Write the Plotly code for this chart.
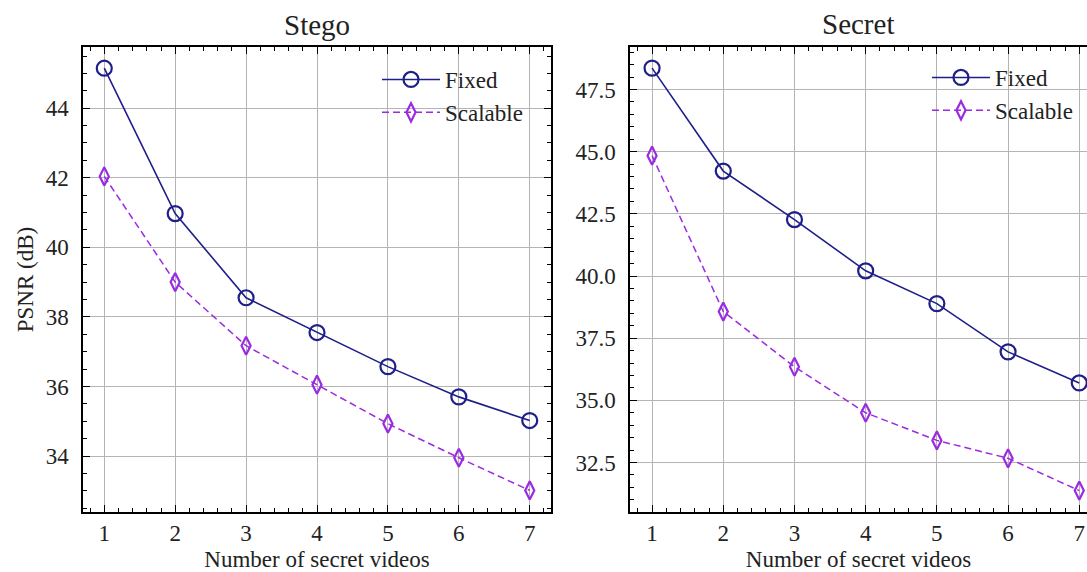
import plotly.graph_objects as go

n_videos = [1, 2, 3, 4, 5, 6, 7]
stego_fixed = [45.15, 40.97, 38.55, 37.55, 36.57, 35.70, 35.02]
stego_scalable = [42.04, 39.00, 37.17, 36.05, 34.93, 33.95, 33.01]
secret_fixed = [48.36, 44.22, 42.27, 40.21, 38.89, 36.95, 35.70]
secret_scalable = [44.84, 38.57, 36.35, 34.50, 33.39, 32.67, 31.37]

FIXED_C = "#1f1f8a"
SCAL_C = "#9a2be0"
FONT = "Liberation Serif"
TXT = "#222"
W, H = 1087, 572

fig = go.Figure()

def add_series(xa, ya, fixed, scal, legend):
    fig.add_trace(go.Scatter(
        x=n_videos, y=fixed, mode="lines+markers", name="Fixed",
        xaxis=xa, yaxis=ya, legend=legend,
        line=dict(color=FIXED_C, width=1.6),
        marker=dict(symbol="circle-open", size=15, color=FIXED_C, line=dict(width=2.2, color=FIXED_C))))
    fig.add_trace(go.Scatter(
        x=n_videos, y=scal, mode="lines+markers", name="Scalable",
        xaxis=xa, yaxis=ya, legend=legend,
        line=dict(color=SCAL_C, width=1.5, dash="7px,4px"),
        marker=dict(symbol="diamond-tall-open", size=13, color=SCAL_C, line=dict(width=2.2, color=SCAL_C))))

add_series("x", "y", stego_fixed, stego_scalable, "legend")
add_series("x2", "y2", secret_fixed, secret_scalable, "legend2")

def px_x(p):
    return p / W

def px_y(p):
    return (H - p) / H

ydom = [px_y(512), px_y(47)]

def xaxis_cfg(dom, rng, mirror):
    return dict(
        domain=dom, range=rng, tickvals=n_videos, ticks="inside", ticklen=7, tickwidth=1.3,
        tickcolor="black", showline=True, linecolor="black", linewidth=1.5, mirror=mirror,
        showgrid=True, gridcolor="#b4b4b4", gridwidth=1, zeroline=False,
        minor=dict(dtick=0.2, tick0=0, ticks="inside", ticklen=4, tickwidth=1, tickcolor="black", showgrid=False),
        tickfont=dict(family=FONT, size=23, color=TXT), ticklabelstandoff=0,
        title=dict(text="Number of secret videos", font=dict(family=FONT, size=23, color=TXT), standoff=10),
        automargin=False,
    )

def yaxis_cfg(anchor, rng, dtick, minor_dtick, mirror, fmt, title=None):
    d = dict(
        domain=ydom, range=rng, dtick=dtick, tick0=0, ticks="inside", ticklen=7, tickwidth=1.3,
        tickcolor="black", showline=True, linecolor="black", linewidth=1.5, mirror=mirror,
        showgrid=True, gridcolor="#b4b4b4", gridwidth=1, zeroline=False, anchor=anchor,
        minor=dict(dtick=minor_dtick, tick0=0, ticks="inside", ticklen=4, tickwidth=1, tickcolor="black", showgrid=False),
        tickfont=dict(family=FONT, size=23, color=TXT), ticklabelstandoff=8, tickformat=fmt,
        automargin=False,
    )
    if title:
        d["title"] = dict(text=title, font=dict(family=FONT, size=23, color=TXT), standoff=6)
    return d

fig.update_layout(
    width=W, height=H,
    margin=dict(l=0, r=0, t=0, b=0),
    paper_bgcolor="white", plot_bgcolor="white",
    xaxis=xaxis_cfg([px_x(83), px_x(551)], [0.7, 7.3], "allticks"),
    yaxis=yaxis_cfg("x", [32.39, 45.76], 2, 0.5, "allticks", "d", "PSNR (dB)"),
    xaxis2=xaxis_cfg([px_x(630), 1.0], [0.69, 0.69 + (W - 630) / 71.2], "allticks"),
    yaxis2=yaxis_cfg("x2", [30.51, 49.21], 2.5, 0.5, False, ".1f"),
    legend=dict(x=px_x(377), y=px_y(58), xanchor="left", yanchor="top", bgcolor="rgba(0,0,0,0)",
                font=dict(family=FONT, size=23, color=TXT), itemwidth=58, tracegroupgap=0),
    legend2=dict(x=px_x(927), y=px_y(56), xanchor="left", yanchor="top", bgcolor="rgba(0,0,0,0)",
                 font=dict(family=FONT, size=23, color=TXT), itemwidth=58, tracegroupgap=0),
    annotations=[
        dict(text="Stego", x=px_x(317), y=px_y(25), xref="paper", yref="paper", showarrow=False,
             font=dict(family=FONT, size=29, color=TXT), xanchor="center", yanchor="middle"),
        dict(text="Secret", x=px_x(858), y=px_y(24), xref="paper", yref="paper", showarrow=False,
             font=dict(family=FONT, size=29, color=TXT), xanchor="center", yanchor="middle"),
    ],
    showlegend=True,
)

fig.write_html(
    "out.html",
    config={"displayModeBar": False},
    post_script="document.body.style.margin='0';document.body.style.overflow='hidden';",
)
